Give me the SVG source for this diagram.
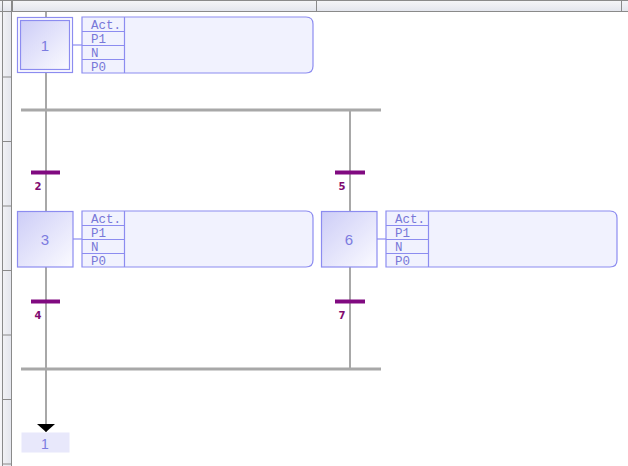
<svg xmlns="http://www.w3.org/2000/svg" width="628" height="466" viewBox="0 0 628 466">
  <defs>
    <linearGradient id="stepFill" x1="0" y1="0" x2="1" y2="1">
      <stop offset="0" stop-color="#cdcdf7"/>
      <stop offset="1" stop-color="#fbfbff"/>
    </linearGradient>
    <linearGradient id="rulerH" x1="0" y1="0" x2="0" y2="1">
      <stop offset="0" stop-color="#f6f6f8"/>
      <stop offset="1" stop-color="#e2e4ec"/>
    </linearGradient>
    <linearGradient id="rulerV" x1="0" y1="0" x2="1" y2="0">
      <stop offset="0" stop-color="#f6f6f8"/>
      <stop offset="1" stop-color="#e2e4ec"/>
    </linearGradient>
    <marker id="arrowDown" viewBox="0 0 8 18" refX="8" refY="9" markerWidth="8" markerHeight="18" markerUnits="userSpaceOnUse" orient="auto">
      <path d="M0,0 L8,9 L0,18 Z" fill="#000"/>
    </marker>
  </defs>
  <style>
    .ruler { stroke: #8a8a8a; stroke-width: 1; }
    .link { stroke: #a8a8a8; stroke-width: 2; fill: none; }
    .bar { stroke: #a8a8a8; stroke-width: 3; fill: none; }
    .tie { stroke: #8c8cf0; stroke-width: 1.2; }
    .step { fill: url(#stepFill); stroke: #8c8cf0; stroke-width: 1.2; }
    .stepOuter { fill: #fff; stroke: #8c8cf0; stroke-width: 1.2; }
    .stepTxt { font-family: "Liberation Sans", Arial, sans-serif; font-size: 15px; fill: #7c7ce0; text-anchor: middle; }
    .act { fill: #f1f2fe; stroke: #8c8cf0; stroke-width: 1.2; }
    .cell { fill: none; stroke: #8c8cf0; stroke-width: 1.2; }
    .actTxt { font-family: "Liberation Mono", "Courier New", monospace; font-size: 12.5px; fill: #7878d8; }
    .trans { stroke: #800a80; stroke-width: 4; }
    .transTxt { font-family: "DejaVu Sans", sans-serif; font-size: 10px; font-weight: bold; fill: #800a70; text-anchor: middle; }
    .jump { fill: #e8e8fb; }
  </style>

  <!-- rulers -->
  <g id="rulers">
    <rect x="0" y="0" width="628" height="12" fill="url(#rulerH)"/>
    <line class="ruler" x1="0" y1="0.5" x2="628" y2="0.5" stroke="#b0b0b0"/>
    <line class="ruler" x1="0" y1="11.5" x2="628" y2="11.5"/>
    <line class="ruler" x1="12.5" y1="0" x2="12.5" y2="12"/>
    <line class="ruler" x1="316.5" y1="0" x2="316.5" y2="12"/>
    <line class="ruler" x1="621.5" y1="0" x2="621.5" y2="12"/>
    <rect x="0" y="12" width="12" height="454" fill="url(#rulerV)"/>
    <line class="ruler" x1="2.5" y1="0" x2="2.5" y2="466"/>
    <line class="ruler" x1="11.5" y1="0" x2="11.5" y2="466"/>
    <line class="ruler" x1="2" y1="77" x2="12" y2="77"/>
    <line class="ruler" x1="2" y1="141.5" x2="12" y2="141.5"/>
    <line class="ruler" x1="2" y1="206" x2="12" y2="206"/>
    <line class="ruler" x1="2" y1="270.5" x2="12" y2="270.5"/>
    <line class="ruler" x1="2" y1="335" x2="12" y2="335"/>
    <line class="ruler" x1="2" y1="399.5" x2="12" y2="399.5"/>
    <line class="ruler" x1="2" y1="464" x2="12" y2="464"/>
  </g>

  <!-- connectors -->
  <g id="connectors">
    <line class="link" x1="46" y1="12" x2="46" y2="17"/>
    <line class="link" x1="46" y1="73" x2="46" y2="211"/>
    <line class="link" x1="46" y1="267" x2="46" y2="369"/>
    <line class="link" x1="350" y1="110" x2="350" y2="211"/>
    <line class="link" x1="350" y1="267" x2="350" y2="369"/>
    <line class="bar" x1="21" y1="110" x2="381" y2="110"/>
    <line class="bar" x1="21" y1="369" x2="381" y2="369"/>
    <line class="link" x1="46" y1="369" x2="46" y2="432" marker-end="url(#arrowDown)"/>
    <line class="tie" x1="73" y1="45" x2="82" y2="45"/>
    <line class="tie" x1="73" y1="239" x2="82" y2="239"/>
    <line class="tie" x1="377" y1="239" x2="386" y2="239"/>
  </g>

  <!-- step 1 (initial) -->
  <g id="step1">
    <rect class="stepOuter" x="17.5" y="17.5" width="55" height="55"/>
    <rect class="step" x="20.5" y="20.5" width="49" height="49"/>
    <text class="stepTxt" x="45" y="51">1</text>
  </g>
  <g id="action1">
    <path class="act" d="M82,17 H306 Q313,17 313,24 V66 Q313,73 306,73 H82 Z"/>
    <path class="cell" d="M124.5,17 V73 M82,31.5 H124.5 M82,45.5 H124.5 M82,59.5 H124.5"/>
    <text class="actTxt" x="91" y="29">Act.</text>
    <text class="actTxt" x="91" y="43">P1</text>
    <text class="actTxt" x="91" y="57">N</text>
    <text class="actTxt" x="91" y="71">P0</text>
  </g>

  <!-- transitions -->
  <g id="t2">
    <line class="trans" x1="31" y1="172.5" x2="60" y2="172.5"/>
    <text class="transTxt" x="38" y="189.5">2</text>
  </g>
  <g id="t5">
    <line class="trans" x1="335" y1="172.5" x2="365" y2="172.5"/>
    <text class="transTxt" x="342" y="189.5">5</text>
  </g>

  <!-- step 3 -->
  <g id="step3">
    <rect class="step" x="17.5" y="211.5" width="55.5" height="55.5"/>
    <text class="stepTxt" x="45" y="245">3</text>
  </g>
  <g id="action3">
    <path class="act" d="M82,211 H306 Q313,211 313,218 V260 Q313,267 306,267 H82 Z"/>
    <path class="cell" d="M124.5,211 V267 M82,225.5 H124.5 M82,239.5 H124.5 M82,253.5 H124.5"/>
    <text class="actTxt" x="91" y="223">Act.</text>
    <text class="actTxt" x="91" y="237">P1</text>
    <text class="actTxt" x="91" y="251">N</text>
    <text class="actTxt" x="91" y="265">P0</text>
  </g>

  <!-- step 6 -->
  <g id="step6">
    <rect class="step" x="321.5" y="211.5" width="55.5" height="55.5"/>
    <text class="stepTxt" x="349" y="245">6</text>
  </g>
  <g id="action6">
    <path class="act" d="M386,211 H610 Q617,211 617,218 V260 Q617,267 610,267 H386 Z"/>
    <path class="cell" d="M428.5,211 V267 M386,225.5 H428.5 M386,239.5 H428.5 M386,253.5 H428.5"/>
    <text class="actTxt" x="395" y="223">Act.</text>
    <text class="actTxt" x="395" y="237">P1</text>
    <text class="actTxt" x="395" y="251">N</text>
    <text class="actTxt" x="395" y="265">P0</text>
  </g>

  <g id="t4">
    <line class="trans" x1="31" y1="301.5" x2="60" y2="301.5"/>
    <text class="transTxt" x="38" y="318.5">4</text>
  </g>
  <g id="t7">
    <line class="trans" x1="335" y1="301.5" x2="365" y2="301.5"/>
    <text class="transTxt" x="342" y="318.5">7</text>
  </g>

  <!-- jump target -->
  <g id="jump1">
    <rect class="jump" x="21.5" y="432.5" width="48" height="20"/>
    <text class="stepTxt" x="45" y="449" style="font-size:14px">1</text>
  </g>
</svg>
